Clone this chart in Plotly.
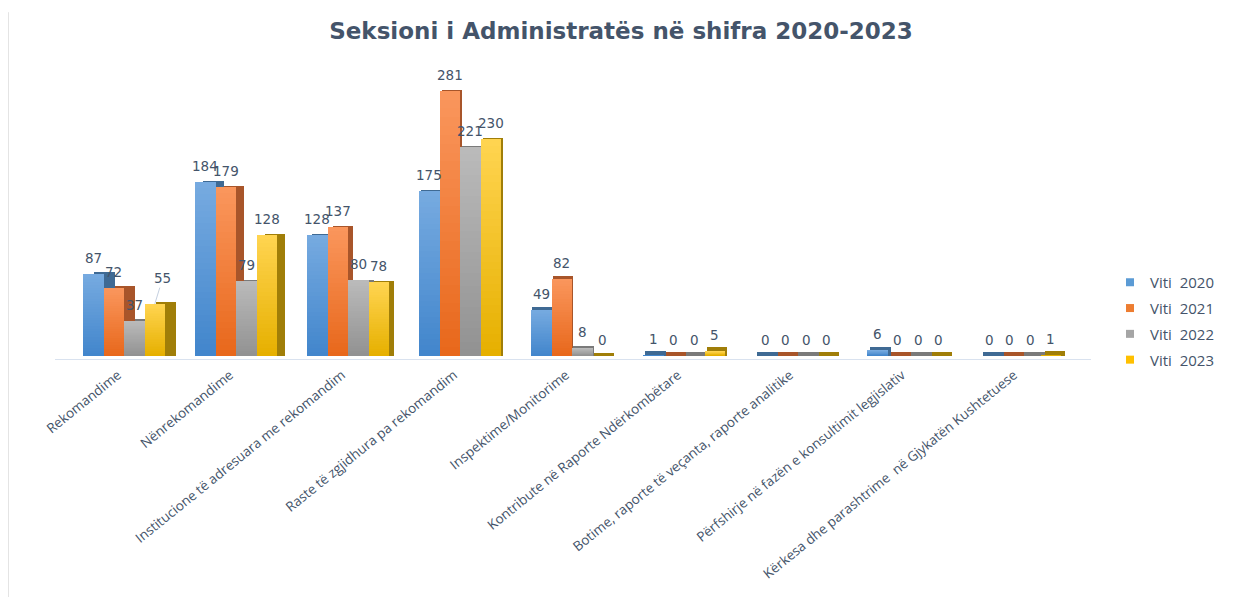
import plotly.graph_objects as go

categories = ["Rekomandime", "Nënrekomandime", "Institucione të adresuara me rekomandim",
              "Raste të zgjidhura pa rekomandim", "Inspektime/Monitorime",
              "Kontribute në Raporte Ndërkombëtare", "Botime, raporte të veçanta, raporte analitike",
              "Përfshirje në fazën e konsultimit legjislativ",
              "Kërkesa dhe parashtrime  në Gjykatën Kushtetuese"]
series_names = ["Viti\u00a0\u00a02020", "Viti\u00a0\u00a02021", "Viti\u00a0\u00a02022", "Viti\u00a0\u00a02023"]
v2020 = [87, 184, 128, 175, 49, 1, 0, 6, 0]
v2021 = [72, 179, 137, 281, 82, 0, 0, 0, 0]
v2022 = [37, 79, 80, 221, 8, 0, 0, 0, 0]
v2023 = [55, 128, 78, 230, 0, 5, 0, 0, 1]
series_values = [v2020, v2021, v2022, v2023]

top_colors = [(118, 170, 224), (250, 150, 92), (186, 186, 186), (255, 212, 80)]
bot_colors = [(66, 134, 204), (232, 104, 28), (146, 146, 146), (230, 176, 0)]
legend_colors = ["#5b9bd5", "#ed7d31", "#a5a5a5", "#ffc000"]
side_colors = ["#3f6a94", "#a8552a", "#7a7a7a", "#a07e08"]
depth_px = [11, 8, 5, 2, 1, 2, 2, 3, 4]
rise_px = [2, 1, 1, 1, 3, 4, 4, 4, 4]
TEXT = "#44546a"

PX = 112.0            # pixels per category on the x axis
BAR = 20.5 / PX
STEPS = 30


def mix(a, b, t):
    return "rgb(%d,%d,%d)" % tuple(round(a[k] + (b[k] - a[k]) * t) for k in range(3))


fig = go.Figure()
xs = list(range(len(categories)))
for s, vals in enumerate(series_values):
    off = (s - 2) * BAR
    fig.add_trace(go.Bar(
        x=xs, y=[v + r for v, r in zip(vals, rise_px)],
        offset=[off + d / PX for d in depth_px], width=BAR,
        marker=dict(color=side_colors[s], line=dict(width=0)),
        showlegend=False, hoverinfo="skip"))
    for k in range(STEPS):
        f = 1 - k / STEPS
        fig.add_trace(go.Bar(
            x=xs, y=[v * f for v in vals], offset=off, width=BAR,
            marker=dict(color=mix(top_colors[s], bot_colors[s], k / (STEPS - 1)), line=dict(width=0)),
            showlegend=False, hoverinfo="skip"))

for s, name in enumerate(series_names):
    fig.add_trace(go.Scatter(
        x=[None], y=[None], mode="markers", name=name, legendgroup=name,
        marker=dict(symbol="square", size=8, color=legend_colors[s])))

label_font = dict(family="DejaVu Sans", size=13.5, color=TEXT)
annotations = []
for s, vals in enumerate(series_values):
    for i, v in enumerate(vals):
        cx = i + (s - 1.5) * BAR
        if s == 3 and i == 0:
            annotations.append(dict(x=cx, y=v, xref="x", yref="y", text=str(v), showarrow=True,
                                    arrowhead=0, arrowwidth=1, arrowcolor="#c5d0e0",
                                    ax=8, ay=-26, standoff=0, font=label_font))
        else:
            annotations.append(dict(x=cx, y=v, xref="x", yref="y", text=str(v), showarrow=False,
                                    yanchor="bottom", yshift=6, font=label_font))

fig.update_layout(
    width=1225, height=589, autosize=False,
    margin=dict(l=47, r=142, t=62, b=238),
    paper_bgcolor="white", plot_bgcolor="white",
    barmode="overlay", bargap=0,
    title=dict(text="<b>Seksioni i Administratës në shifra 2020-2023</b>",
               x=613 / 1225, xref="container", xanchor="center", y=1 - 23 / 589, yanchor="middle",
               font=dict(family="DejaVu Sans", size=23, color=TEXT)),
    xaxis=dict(range=[(55 - 124) / PX, (1091 - 124) / PX], tickmode="array", tickvals=xs,
               ticktext=categories, tickangle=-39, ticks="", showgrid=False, zeroline=False,
               showline=True, linecolor="#d9e2ef", linewidth=1, ticklabelshift=-6, ticklabelstandoff=2,
               tickfont=dict(family="Open Sans", size=13.5, color=TEXT)),
    yaxis=dict(range=[-3.2, 303], visible=False, showgrid=False, zeroline=False),
    legend=dict(x=1102 / 1225, xref="container", y=1 - 258 / 589, yref="container",
                xanchor="left", yanchor="top", tracegroupgap=3.3, itemwidth=30,
                font=dict(family="Open Sans", size=15, color=TEXT), bgcolor="rgba(0,0,0,0)"),
    annotations=annotations,
    shapes=[dict(type="line", xref="paper", yref="paper", x0=-46.5 / 1036, x1=-46.5 / 1036, y0=-238 / 289, y1=1.2,
                 line=dict(color="#e4e4e4", width=1))],
)
fig.write_html("out.html")
